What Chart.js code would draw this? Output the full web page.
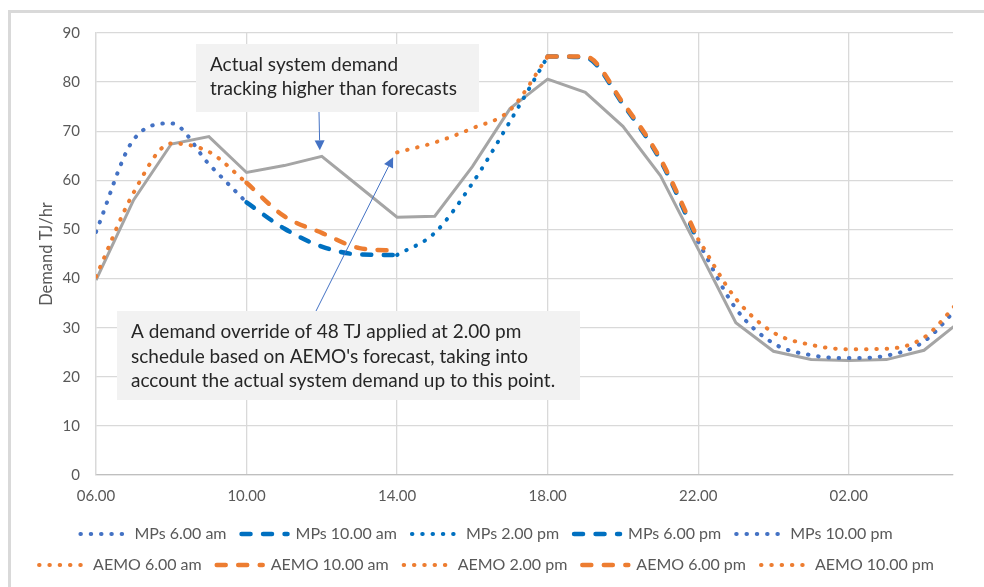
<!DOCTYPE html>
<html>
<head>
<meta charset="utf-8">
<title>Demand forecasts</title>
<script src="https://cdn.jsdelivr.net/npm/chart.js@4.4.1/dist/chart.umd.min.js"></script>
<style>
  html, body { margin: 0; padding: 0; background: #fff; overflow: hidden; }
  #wrap { position: relative; width: 984px; height: 587px; overflow: hidden; }
  #frame { position: absolute; left: 8px; top: 10px; width: 1000px; height: 600px;
           border-left: 3px solid #d9d9d9; border-top: 3px solid #d9d9d9; }
  #chart { position: absolute; left: 0; top: 0; }
</style>
</head>
<body>
<div id="wrap">
  <div id="frame"></div>
  <canvas id="chart" width="984" height="587"></canvas>
</div>
<script>
// hourly categories, gas day starting 06.00
var hours = ['06.00', '07.00', '08.00', '09.00', '10.00', '11.00', '12.00', '13.00',
             '14.00', '15.00', '16.00', '17.00', '18.00', '19.00', '20.00', '21.00',
             '22.00', '23.00', '00.00', '01.00', '02.00', '03.00', '04.00', '05.00'];
var tickLabels = ['06.00', '10.00', '14.00', '18.00', '22.00', '02.00'];

// actual system demand (TJ/hr)
var actual = [39.7, 56.0, 67.4, 68.9, 61.6, 63.0, 64.9, 58.7, 52.5, 52.7, 62.8, 74.6,
              80.6, 77.9, 71.0, 60.9, 46.0, 31.0, 25.2, 23.5, 23.3, 23.5, 25.4, 31.5];

// market participant forecasts, each starting at its schedule time
var mps6am = [49.5, 68.3, 71.6, 63.3, 55.5];             // from 06.00
var mps10am = [55.5, 50.2, 46.5, 44.9, 44.8];            // from 10.00
var mps2pm = [44.8, 49.3, 59.4, 72.0, 85.2];             // from 14.00
var mps6pm = [85.2, 85.0, 75.5, 64.0, 47.5];             // from 18.00
var mps10pm = [47.5, 33.9, 26.8, 24.4, 23.8, 24.3, 27.2, 35.0]; // from 22.00

// AEMO forecasts
var aemo6am = [40.4, 57.5, 67.5, 65.8, 59.5];
var aemo10am = [59.5, 52.7, 49.3, 46.2, 45.7];
var aemo2pm = [65.7, 67.7, 70.6, 74.3, 85.2];
var aemo6pm = [85.2, 85.2, 75.8, 64.3, 48.0];
var aemo10pm = [48.0, 35.9, 29.0, 26.5, 25.6, 25.7, 28.0, 36.0];

var BLUE = '#4472c4', DARKBLUE = '#0070c0', ORANGE = '#ed7d31', GREY = '#a5a5a5';
var DOTS = [0.5, 9.8], DASHES = [9, 12.5];

function toPoints(values, start) {
    var first = hours.indexOf(start);
    return values.map(function (v, i) {
        return { x: first + i, y: v };
    });
}

function forecast(label, values, start, color, dashed, order) {
    return {
        label: label,
        data: toPoints(values, start),
        borderColor: color,
        backgroundColor: color,
        borderWidth: dashed ? 4.5 : 4,
        borderDash: dashed ? DASHES : DOTS,
        borderCapStyle: 'round',
        cubicInterpolationMode: 'monotone',
        pointRadius: 0,
        pointHoverRadius: 0,
        fill: false,
        order: order
    };
}

var datasets = [
    forecast('MPs 6.00 am', mps6am, '06.00', BLUE, false, 2),
    forecast('MPs 10.00 am', mps10am, '10.00', DARKBLUE, true, 2),
    forecast('MPs 2.00 pm', mps2pm, '14.00', DARKBLUE, false, 2),
    forecast('MPs 6.00 pm', mps6pm, '18.00', DARKBLUE, true, 2),
    forecast('MPs 10.00 pm', mps10pm, '22.00', BLUE, false, 2),
    forecast('AEMO 6.00 am', aemo6am, '06.00', ORANGE, false, 1),
    forecast('AEMO 10.00 am', aemo10am, '10.00', ORANGE, true, 1),
    forecast('AEMO 2.00 pm', aemo2pm, '14.00', ORANGE, false, 1),
    forecast('AEMO 6.00 pm', aemo6pm, '18.00', ORANGE, true, 1),
    forecast('AEMO 10.00 pm', aemo10pm, '22.00', ORANGE, false, 1),
    {
        label: 'Actual',
        data: toPoints(actual, '06.00'),
        borderColor: GREY,
        backgroundColor: GREY,
        borderWidth: 3,
        tension: 0,
        pointRadius: 0,
        pointHoverRadius: 0,
        fill: false,
        order: 3
    }
];

// text callouts with arrows pointing at the data
var callouts = [
    {
        box: [196, 44, 283, 68],
        lines: ['Actual system demand', 'tracking higher than forecasts'],
        textX: 210, textY: 65, lineGap: 23.5,
        from: [319, 112],
        hour: '12.00', value: actual[hours.indexOf('12.00')], dx: -2, dy: -6
    },
    {
        box: [117, 311, 463, 89],
        lines: ['A demand override of 48 TJ applied at 2.00 pm',
                'schedule based on AEMO\'s forecast, taking into',
                'account the actual system demand up to this point.'],
        textX: 131, textY: 332, lineGap: 24.5,
        from: [316, 311],
        hour: '14.00', value: aemo2pm[0], dx: -4, dy: 5
    }
];

function drawArrow(ctx, x1, y1, x2, y2) {
    var ang = Math.atan2(y2 - y1, x2 - x1);
    var len = 10, hw = 5;
    var bx = x2 - Math.cos(ang) * len, by = y2 - Math.sin(ang) * len;
    ctx.strokeStyle = BLUE;
    ctx.fillStyle = BLUE;
    ctx.lineWidth = 1;
    ctx.setLineDash([]);
    ctx.beginPath();
    ctx.moveTo(x1, y1);
    ctx.lineTo(bx, by);
    ctx.stroke();
    ctx.beginPath();
    ctx.moveTo(x2, y2);
    ctx.lineTo(bx + Math.sin(ang) * hw, by - Math.cos(ang) * hw);
    ctx.lineTo(bx - Math.sin(ang) * hw, by + Math.cos(ang) * hw);
    ctx.closePath();
    ctx.fill();
}

var calloutPlugin = {
    id: 'callouts',
    afterDatasetsDraw: function (chart) {
        var ctx = chart.ctx, xs = chart.scales.x, ys = chart.scales.y;
        callouts.forEach(function (c) {
            ctx.save();
            ctx.fillStyle = '#f2f2f2';
            ctx.fillRect(c.box[0], c.box[1], c.box[2], c.box[3]);
            ctx.fillStyle = '#262626';
            ctx.font = '19px Lato';
            ctx.textBaseline = 'middle';
            c.lines.forEach(function (t, i) {
                ctx.fillText(t, c.textX, c.textY + i * c.lineGap);
            });
            var tx = xs.getPixelForValue(hours.indexOf(c.hour)) + c.dx;
            var ty = ys.getPixelForValue(c.value) + c.dy;
            drawArrow(ctx, c.from[0], c.from[1], tx, ty);
            ctx.restore();
        });
    }
};

var tickFont = { family: 'Lato', size: 15 };
var legendFont = { family: 'Lato', size: 16 };

new Chart(document.getElementById('chart'), {
    type: 'line',
    data: { datasets: datasets },
    plugins: [calloutPlugin],
    options: {
        responsive: false,
        animation: false,
        devicePixelRatio: 1,
        layout: { padding: { left: 20, right: 31, top: 33, bottom: 4 } },
        scales: {
            x: {
                type: 'linear',
                min: 0,
                max: 22.77,
                afterBuildTicks: function (scale) {
                    scale.ticks = tickLabels.map(function (t) {
                        return { value: hours.indexOf(t) };
                    });
                },
                afterFit: function (scale) { scale.height = 36; },
                ticks: {
                    callback: function (v) { return hours[v]; },
                    font: tickFont,
                    color: '#595959',
                    padding: 12,
                    maxRotation: 0,
                    autoSkip: false
                },
                grid: { color: '#d9d9d9', lineWidth: 1.3, drawTicks: false },
                border: { color: '#bfbfbf', width: 1.3 }
            },
            y: {
                min: 0,
                max: 90,
                afterFit: function (scale) { scale.width = 76; },
                ticks: { stepSize: 10, font: tickFont, color: '#595959', padding: 16 },
                grid: { color: '#d9d9d9', lineWidth: 1.3, drawTicks: false },
                border: { color: '#d9d9d9', width: 1.3 },
                title: {
                    display: true,
                    text: 'Demand TJ/hr',
                    font: { family: 'Lato', size: 16.5 },
                    color: '#595959',
                    padding: { top: 16.6, bottom: 0 }
                }
            }
        },
        plugins: {
            tooltip: { enabled: false },
            legend: {
                position: 'bottom',
                labels: {
                    font: legendFont,
                    color: '#595959',
                    usePointStyle: true,
                    pointStyleWidth: 46,
                    boxHeight: 6,
                    padding: 15,
                    generateLabels: function (chart) {
                        return chart.data.datasets.map(function (ds, i) {
                            return {
                                text: ds.label,
                                fillStyle: ds.borderColor,
                                strokeStyle: ds.borderColor,
                                fontColor: '#595959',
                                lineWidth: ds.borderWidth,
                                lineDash: ds.borderDash,
                                lineCap: 'round',
                                pointStyle: 'line',
                                hidden: false,
                                datasetIndex: i
                            };
                        });
                    },
                    filter: function (item) { return item.text !== 'Actual'; },
                    sort: function (a, b) { return a.datasetIndex - b.datasetIndex; }
                }
            }
        }
    }
});
</script>
</body>
</html>
